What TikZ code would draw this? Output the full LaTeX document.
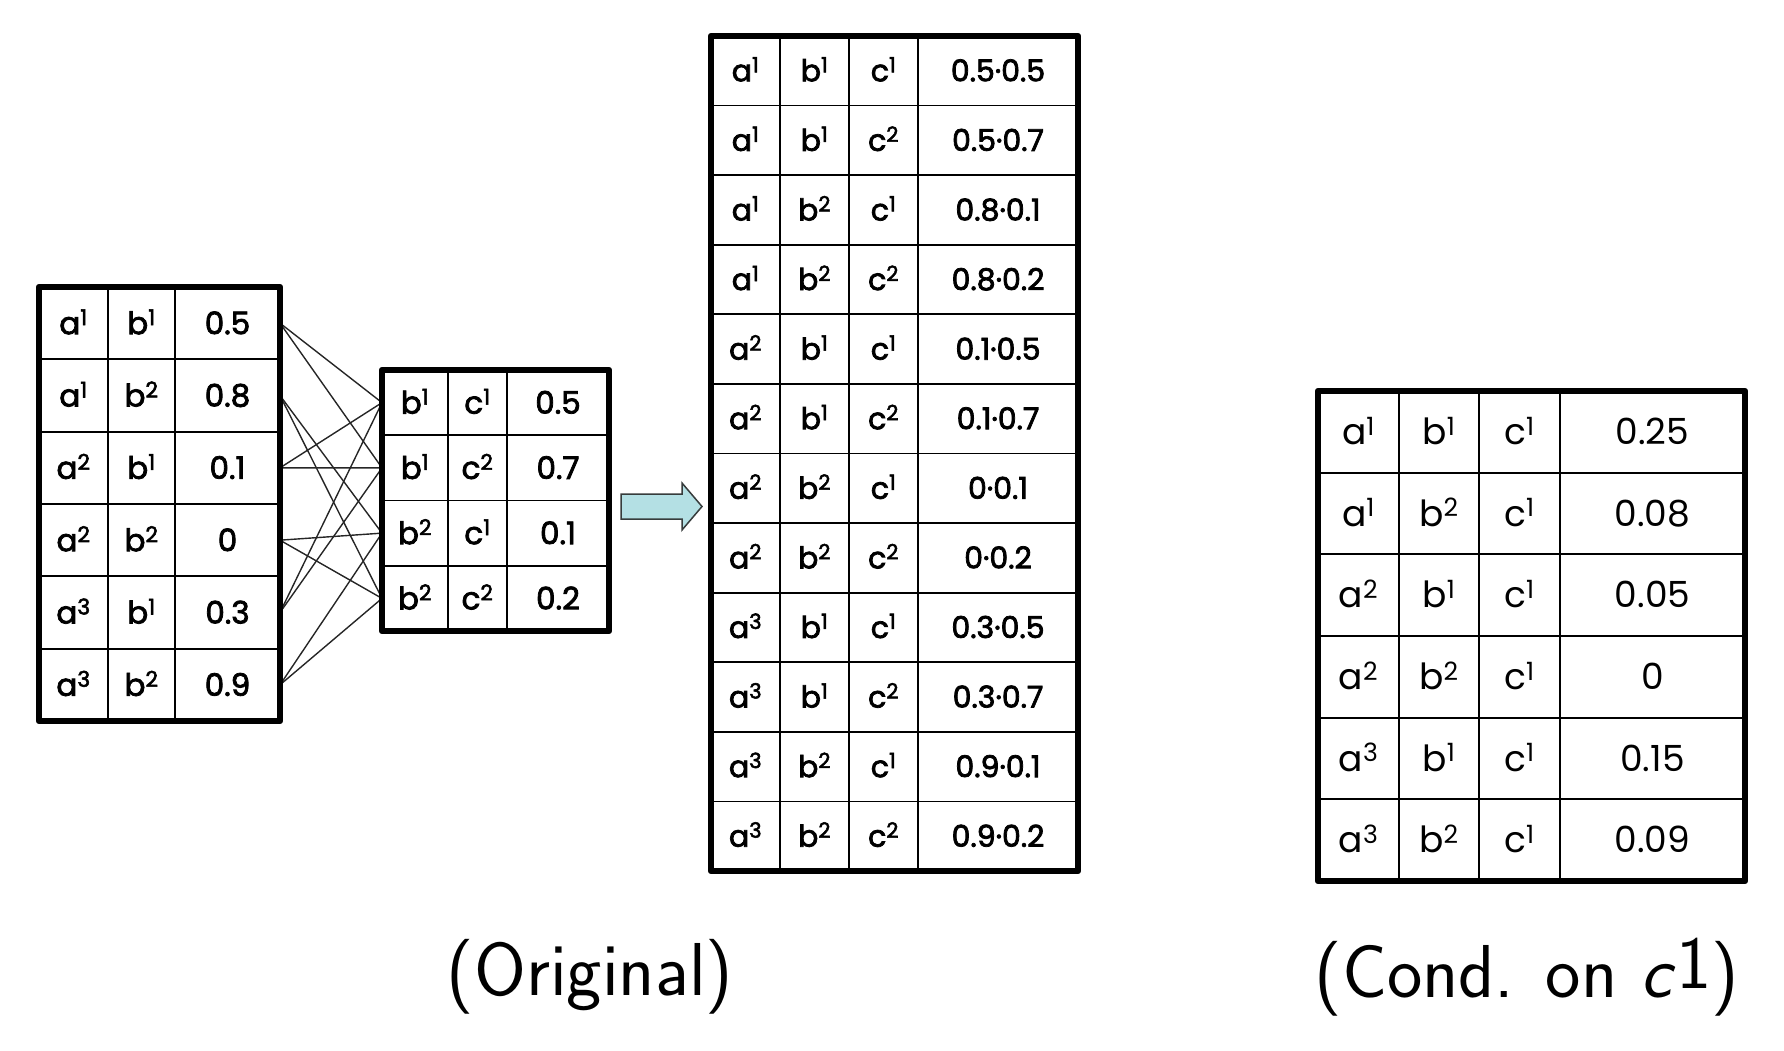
\documentclass[tikz,border=0pt]{standalone}
\usepackage{fontspec}
\newfontfamily\tabfont{Poppins}[FakeBold=2.5]
\newfontfamily\tabfontR{Poppins}
\definecolor{arrowfill}{RGB}{180,224,228}
\definecolor{arrowline}{RGB}{55,60,60}
\tikzset{
  thickbox/.style={line width=6.5pt, line join=round},
  gridline/.style={line width=1.8pt},
  link/.style={line width=1.4pt, black!85},
  rowbox/.style={inner sep=0pt, outer sep=0pt, minimum width=#1},
  cellS/.style={inner sep=0pt, font=\tabfont\fontsize{31}{31}\selectfont, text height=22pt, text depth=0pt},
  cellB/.style={inner sep=0pt, font=\tabfont\fontsize{30}{30}\selectfont, text height=21pt, text depth=0pt},
  cellR/.style={inner sep=0pt, font=\tabfontR\fontsize{36}{36}\selectfont, text height=25pt, text depth=0pt},
  caption/.style={inner sep=0pt, font=\sffamily\fontsize{75}{90}\selectfont},
  bigarrow/.style={fill=arrowfill, draw=arrowline, line width=1.5pt, line join=miter}
}
\begin{document}
\begin{tikzpicture}[x=1pt,y=-1pt]
\useasboundingbox (0,0) rectangle (1784,1050);

% ---------- left table (a,b) ----------
\foreach \A/\B/\P [count=\i] in {1/1/0.5,1/2/0.8,2/1/0.1,2/2/0,3/1/0.3,3/2/0.9}{
  \node[rowbox=241pt, minimum height=72.33pt] (L\i) at (159.5,{287+(\i-0.5)*72.333}) {};
  \node[cellS] (La\i) at (73.5,{287+(\i-0.5)*72.333}) {a\textsuperscript{\A}};
  \node[cellS] (Lb\i) at (141.5,{287+(\i-0.5)*72.333}) {b\textsuperscript{\B}};
  \node[cellS] (Lp\i) at (227.5,{287+(\i-0.5)*72.333}) {\P};
}
% ---------- middle table (b,c) ----------
\foreach \B/\C/\P [count=\i] in {1/1/0.5,1/2/0.7,2/1/0.1,2/2/0.2}{
  \node[rowbox=227pt, minimum height=65.25pt] (M\i) at (495.5,{370+(\i-0.5)*65.25}) {};
  \node[cellS] (Mb\i) at (415,{370+(\i-0.5)*65.25}) {b\textsuperscript{\B}};
  \node[cellS] (Mc\i) at (477.5,{370+(\i-0.5)*65.25}) {c\textsuperscript{\C}};
  \node[cellS] (Mp\i) at (558,{370+(\i-0.5)*65.25}) {\P};
}
% ---------- links ----------
\foreach \l/\m in {1/1,1/2,2/3,2/4,3/1,3/2,4/3,4/4,5/1,5/2,6/3,6/4}{
  \draw[link] (L\l.east) -- (M\m.west);
}
% grids of left and middle
\foreach \k in {1,...,5}{ \draw[gridline] (39,{287+\k*72.333}) -- (280,{287+\k*72.333}); }
\foreach \x in {108,175}{ \draw[gridline] (\x,287) -- (\x,721); }
\draw[thickbox] (39,287) rectangle (280,721);
\foreach \k in {1,...,3}{ \draw[gridline] (382,{370+\k*65.25}) -- (609,{370+\k*65.25}); }
\foreach \x in {448,507}{ \draw[gridline] (\x,370) -- (\x,631); }
\draw[thickbox] (382,370) rectangle (609,631);

% ---------- arrow ----------
\coordinate (arrA) at (621,494);
\draw[bigarrow] (arrA) -- (682,494) -- (682,483) -- (702,506.5) -- (682,530) -- (682,519) -- (621,519) -- cycle;

% ---------- big product table ----------
\foreach \A/\B/\C/\P [count=\i] in {
  1/1/1/0.5{\textperiodcentered}0.5, 1/1/2/0.5{\textperiodcentered}0.7,
  1/2/1/0.8{\textperiodcentered}0.1, 1/2/2/0.8{\textperiodcentered}0.2,
  2/1/1/0.1{\textperiodcentered}0.5, 2/1/2/0.1{\textperiodcentered}0.7,
  2/2/1/0{\textperiodcentered}0.1,   2/2/2/0{\textperiodcentered}0.2,
  3/1/1/0.3{\textperiodcentered}0.5, 3/1/2/0.3{\textperiodcentered}0.7,
  3/2/1/0.9{\textperiodcentered}0.1, 3/2/2/0.9{\textperiodcentered}0.2}{
  \node[rowbox=367pt, minimum height=69.58pt] (P\i) at (894.5,{36+(\i-0.5)*69.583}) {};
  \node[cellB] (Pa\i) at (745.5,{36+(\i-0.5)*69.583}) {a\textsuperscript{\A}};
  \node[cellB] (Pb\i) at (814.5,{36+(\i-0.5)*69.583}) {b\textsuperscript{\B}};
  \node[cellB] (Pc\i) at (883.5,{36+(\i-0.5)*69.583}) {c\textsuperscript{\C}};
  \node[cellB] (Pp\i) at (998,{36+(\i-0.5)*69.583}) {\P};
}
\foreach \k in {1,...,11}{ \draw[gridline] (711,{36+\k*69.583}) -- (1078,{36+\k*69.583}); }
\foreach \x in {780,849,918}{ \draw[gridline] (\x,36) -- (\x,871); }
\draw[thickbox] (711,36) rectangle (1078,871);

% ---------- conditioned table ----------
\foreach \A/\B/\P [count=\i] in {1/1/0.25,1/2/0.08,2/1/0.05,2/2/0,3/1/0.15,3/2/0.09}{
  \node[rowbox=427pt, minimum height=81.67pt] (R\i) at (1531.5,{391+(\i-0.5)*81.667}) {};
  \node[cellR] (Ra\i) at (1358.5,{391+(\i-0.5)*81.667}) {a\textsuperscript{\A}};
  \node[cellR] (Rb\i) at (1439,{391+(\i-0.5)*81.667}) {b\textsuperscript{\B}};
  \node[cellR] (Rc\i) at (1519.5,{391+(\i-0.5)*81.667}) {c\textsuperscript{1}};
  \node[cellR] (Rp\i) at (1652.5,{391+(\i-0.5)*81.667}) {\P};
}
\foreach \k in {1,...,5}{ \draw[gridline] (1318,{391+\k*81.667}) -- (1745,{391+\k*81.667}); }
\foreach \x in {1399,1479,1560}{ \draw[gridline] (\x,391) -- (\x,881); }
\draw[thickbox] (1318,391) rectangle (1745,881);

% ---------- captions ----------
\node[caption] (capO) at (590,977) {(Original)};
\node[caption] (capC) at (1527,977) {(Cond. on \textsl{c}$^{\textsf{1}}$)};
\end{tikzpicture}
\end{document}
